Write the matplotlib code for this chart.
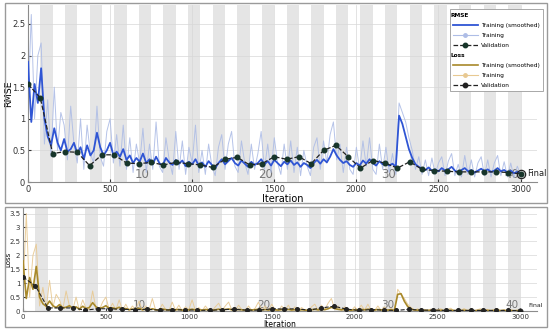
import numpy as np
import matplotlib
matplotlib.use("Agg")
import matplotlib.pyplot as plt
from matplotlib.lines import Line2D
from matplotlib.patches import Rectangle

# Training progress (MATLAB style)
N_EPOCHS = 40
ITERS_PER_EPOCH = 75
iterations = np.arange(0, 3001, 20)
val_iterations = np.arange(0, 3001, 75)

rmse_smooth = [
    1.90, 0.95, 1.55, 1.25, 1.80, 1.00, 0.72, 0.58, 0.85, 0.62,
    0.50, 0.68, 0.48, 0.52, 0.62, 0.45, 0.55, 0.36, 0.58, 0.42,
    0.50, 0.78, 0.55, 0.42, 0.50, 0.62, 0.42, 0.48, 0.40, 0.52,
    0.35, 0.42, 0.30, 0.38, 0.32, 0.45, 0.30, 0.36, 0.28, 0.40,
    0.30, 0.26, 0.38, 0.31, 0.27, 0.35, 0.29, 0.34, 0.25, 0.32,
    0.28, 0.36, 0.26, 0.31, 0.24, 0.33, 0.27, 0.22, 0.30, 0.36,
    0.28, 0.33, 0.38, 0.30, 0.26, 0.34, 0.29, 0.24, 0.32, 0.27,
    0.30, 0.36, 0.28, 0.33, 0.26, 0.35, 0.30, 0.25, 0.32, 0.28,
    0.34, 0.27, 0.31, 0.24, 0.30, 0.27, 0.22, 0.30, 0.35, 0.29,
    0.36, 0.31, 0.40, 0.52, 0.42, 0.35, 0.30, 0.33, 0.27, 0.24,
    0.30, 0.26, 0.34, 0.29, 0.36, 0.30, 0.26, 0.33, 0.28, 0.31,
    0.26, 0.29, 0.24, 1.05, 0.92, 0.72, 0.52, 0.38, 0.28, 0.24,
    0.21, 0.19, 0.23, 0.18, 0.20, 0.17, 0.22, 0.18, 0.20, 0.24,
    0.18, 0.15, 0.19, 0.22, 0.17, 0.19, 0.15, 0.18, 0.21, 0.17,
    0.20, 0.16, 0.18, 0.22, 0.17, 0.19, 0.15, 0.18, 0.14, 0.16,
    0.14,
]
rmse_raw = [
    1.20, 2.65, 1.00, 2.00, 2.20, 0.60, 1.30, 0.40, 1.50, 0.50,
    1.10, 0.90, 0.35, 1.20, 0.60, 0.30, 1.00, 0.20, 0.90, 0.45,
    0.30, 1.20, 0.40, 0.25, 0.80, 1.00, 0.30, 0.75, 0.25, 0.90,
    0.20, 0.70, 0.15, 0.60, 0.30, 0.85, 0.15, 0.60, 0.20, 0.95,
    0.25, 0.15, 0.70, 0.35, 0.12, 0.80, 0.20, 0.65, 0.12, 0.55,
    0.30, 0.90, 0.15, 0.50, 0.12, 0.60, 0.25, 0.10, 0.55, 0.75,
    0.20, 0.60, 0.80, 0.25, 0.15, 0.65, 0.30, 0.12, 0.60, 0.20,
    0.45, 0.80, 0.20, 0.60, 0.15, 0.70, 0.30, 0.12, 0.60, 0.20,
    0.65, 0.15, 0.55, 0.10, 0.50, 0.25, 0.10, 0.55, 0.70, 0.20,
    0.65, 0.30, 0.75, 0.95, 0.35, 0.60, 0.15, 0.55, 0.20, 0.12,
    0.55, 0.20, 0.65, 0.25, 0.70, 0.20, 0.12, 0.60, 0.20, 0.55,
    0.15, 0.45, 0.12, 1.25, 1.10, 0.95, 0.70, 0.50, 0.20, 0.40,
    0.12, 0.35, 0.10, 0.38, 0.12, 0.30, 0.40, 0.10, 0.33, 0.45,
    0.10, 0.28, 0.08, 0.42, 0.12, 0.35, 0.08, 0.30, 0.40, 0.10,
    0.35, 0.08, 0.30, 0.42, 0.10, 0.32, 0.08, 0.30, 0.07, 0.25,
    0.12,
]
rmse_val = [
    1.55, 1.33, 0.45, 0.48, 0.47, 0.26, 0.43, 0.43, 0.30, 0.29,
    0.31, 0.27, 0.31, 0.29, 0.27, 0.23, 0.36, 0.39, 0.27, 0.29,
    0.40, 0.36, 0.40, 0.29, 0.50, 0.58, 0.40, 0.22, 0.34, 0.30,
    0.22, 0.32, 0.20, 0.18, 0.17, 0.16, 0.16, 0.16, 0.16, 0.15,
    0.13,
]

loss_smooth = [
    1.80, 0.45, 1.20, 0.78, 1.60, 0.50, 0.26, 0.17, 0.36, 0.19,
    0.125, 0.23, 0.115, 0.135, 0.19, 0.10, 0.15, 0.065, 0.17, 0.09,
    0.125, 0.30, 0.15, 0.09, 0.125, 0.19, 0.09, 0.115, 0.08, 0.135,
    0.06, 0.09, 0.045, 0.07, 0.05, 0.10, 0.045, 0.065, 0.04, 0.08,
    0.045, 0.034, 0.072, 0.048, 0.036, 0.061, 0.042, 0.058, 0.031, 0.051,
    0.039, 0.065, 0.034, 0.048, 0.029, 0.054, 0.036, 0.024, 0.045, 0.065,
    0.039, 0.054, 0.072, 0.045, 0.034, 0.058, 0.042, 0.029, 0.051, 0.036,
    0.045, 0.065, 0.039, 0.054, 0.034, 0.061, 0.045, 0.031, 0.051, 0.039,
    0.058, 0.036, 0.048, 0.029, 0.045, 0.036, 0.024, 0.045, 0.061, 0.042,
    0.065, 0.048, 0.08, 0.135, 0.088, 0.061, 0.045, 0.054, 0.036, 0.029,
    0.045, 0.034, 0.058, 0.042, 0.065, 0.045, 0.034, 0.054, 0.039, 0.048,
    0.034, 0.042, 0.029, 0.60, 0.62, 0.35, 0.16, 0.072, 0.039, 0.029,
    0.022, 0.018, 0.026, 0.016, 0.02, 0.014, 0.024, 0.016, 0.02, 0.029,
    0.016, 0.011, 0.018, 0.024, 0.014, 0.018, 0.011, 0.016, 0.022, 0.014,
    0.02, 0.013, 0.016, 0.024, 0.014, 0.018, 0.011, 0.016, 0.01, 0.013,
    0.01,
]
loss_raw = [
    0.72, 3.50, 0.50, 2.00, 2.40, 0.18, 0.85, 0.08, 1.10, 0.125,
    0.60, 0.40, 0.06, 0.72, 0.18, 0.045, 0.50, 0.02, 0.40, 0.10,
    0.045, 0.72, 0.08, 0.03, 0.32, 0.50, 0.045, 0.28, 0.03, 0.40,
    0.02, 0.245, 0.011, 0.18, 0.045, 0.36, 0.011, 0.18, 0.02, 0.45,
    0.03, 0.011, 0.245, 0.06, 0.007, 0.32, 0.02, 0.21, 0.007, 0.15,
    0.045, 0.40, 0.011, 0.125, 0.007, 0.18, 0.03, 0.005, 0.15, 0.28,
    0.02, 0.18, 0.32, 0.03, 0.011, 0.21, 0.045, 0.007, 0.18, 0.02,
    0.10, 0.32, 0.02, 0.18, 0.011, 0.245, 0.045, 0.007, 0.18, 0.02,
    0.21, 0.011, 0.15, 0.005, 0.125, 0.03, 0.005, 0.15, 0.245, 0.02,
    0.21, 0.045, 0.28, 0.45, 0.06, 0.18, 0.011, 0.15, 0.02, 0.007,
    0.15, 0.02, 0.21, 0.03, 0.245, 0.02, 0.007, 0.18, 0.02, 0.15,
    0.011, 0.10, 0.007, 0.78, 0.60, 0.45, 0.245, 0.125, 0.02, 0.08,
    0.007, 0.06, 0.005, 0.07, 0.007, 0.045, 0.08, 0.005, 0.055, 0.10,
    0.005, 0.04, 0.003, 0.09, 0.007, 0.06, 0.003, 0.045, 0.08, 0.005,
    0.06, 0.003, 0.045, 0.09, 0.005, 0.05, 0.003, 0.045, 0.002, 0.03,
    0.007,
]
loss_val = [
    1.22, 0.90, 0.11, 0.11, 0.11, 0.03, 0.08, 0.08, 0.06, 0.05,
    0.06, 0.03, 0.04, 0.04, 0.03, 0.02, 0.05, 0.06, 0.03, 0.03,
    0.08, 0.07, 0.08, 0.03, 0.11, 0.17, 0.07, 0.02, 0.05, 0.03,
    0.02, 0.06, 0.03, 0.03, 0.02, 0.02, 0.02, 0.02, 0.02, 0.02,
    0.01,
]

BLUE = '#2f55d4'
BLUE_LIGHT = '#aebde6'
GOLD = '#a8892a'
GOLD_LIGHT = '#e8c992'
VAL = '#17352a'
SPINE = '#8c8c8c'
W, H = 550, 332

fig = plt.figure(figsize=(5.5, 3.32), dpi=100)
fig.patch.set_facecolor('white')

# panel frames
for (x0, y0, x1, y1) in [(5, 3, 547, 203), (5, 207, 547, 327)]:
    fig.patches.append(Rectangle((x0 / W, 1 - y1 / H), (x1 - x0) / W, (y1 - y0) / H,
                                 transform=fig.transFigure, fill=False,
                                 edgecolor='#9a9a9a', lw=1.0))


def make_ax(left, top, right, bottom):
    return fig.add_axes([left / W, 1 - bottom / H, (right - left) / W, (bottom - top) / H])


ax1 = make_ax(28, 5, 537, 182)
ax2 = make_ax(23, 208, 537, 311)


def style(ax, ymax, yticks, fs, epoch_fs, label_y0):
    ax.set_xlim(0, 3100)
    ax.set_ylim(0, ymax)
    for e in range(1, N_EPOCHS, 2):
        ax.axvspan(e * ITERS_PER_EPOCH, (e + 1) * ITERS_PER_EPOCH,
                   color='#e5e5e5', lw=0, zorder=0)
    ax.set_xticks(range(0, 3001, 500))
    ax.set_yticks(yticks)
    ax.set_yticklabels(['%g' % t for t in yticks])
    ax.grid(True, color='#d8d8d8', lw=0.5, zorder=0.5)
    ax.set_axisbelow(True)
    ax.tick_params(labelsize=fs, length=2, direction='in', colors='#333333', pad=2)
    for s in ['top', 'right']:
        ax.spines[s].set_visible(False)
    for s in ['left', 'bottom']:
        ax.spines[s].set_color(SPINE)
        ax.spines[s].set_linewidth(0.8)
    for e in (10, 20, 30, 40):
        ax.text(e * ITERS_PER_EPOCH - 10, label_y0, str(e), ha='right', va='bottom',
                fontsize=epoch_fs, color='#777777', zorder=1)


style(ax1, 2.8, [0, 0.5, 1, 1.5, 2, 2.5], 6.0, 8.5, 0.02)
style(ax2, 3.7, [0, 0.5, 1, 1.5, 2, 2.5, 3, 3.5], 5, 7.5, 0.03)

# RMSE
ax1.plot(iterations, rmse_raw, color=BLUE_LIGHT, lw=0.7, alpha=0.9, zorder=2)
ax1.plot(iterations, rmse_smooth, color=BLUE, lw=1.3, zorder=3)
ax1.plot(val_iterations, rmse_val, '--', color='#222222', lw=0.9, zorder=4,
         marker='o', markersize=3.3, markerfacecolor=VAL, markeredgecolor=VAL)
ax1.plot([3000], [rmse_val[-1]], 'o', markersize=6, markerfacecolor='none',
         markeredgecolor='#222222', markeredgewidth=0.9, zorder=5)
ax1.text(3040, rmse_val[-1], 'Final', fontsize=6, va='center', ha='left', color='#222222')
ax1.set_ylabel('RMSE', fontsize=6.8, va='center')
ax1.yaxis.set_label_coords(-0.039, 0.5)
ax1.set_xlabel('Iteration', fontsize=7, labelpad=0)

# Loss
ax2.plot(iterations, loss_raw, color=GOLD_LIGHT, lw=0.7, alpha=0.9, zorder=2)
ax2.plot(iterations, loss_smooth, color=GOLD, lw=1.2, zorder=3)
ax2.plot(val_iterations, loss_val, '--', color='#222222', lw=0.8, zorder=4,
         marker='o', markersize=2.6, markerfacecolor='#222222', markeredgecolor='#222222')
ax2.plot([3000], [loss_val[-1]], 'o', markersize=3.5, markerfacecolor='none',
         markeredgecolor='#222222', markeredgewidth=0.8, zorder=5)
ax2.text(3050, 0.1, 'Final', fontsize=4.5, va='bottom', ha='left', color='#222222')
ax2.set_ylabel('Loss', fontsize=5, va='center')
ax2.yaxis.set_label_coords(-0.029, 0.5)
ax2.set_xlabel('Iteration', fontsize=5.5, labelpad=0)

# legend
blank = Line2D([], [], color='none')
handles = [
    blank,
    Line2D([], [], color=BLUE, lw=1.3),
    Line2D([], [], color=BLUE_LIGHT, lw=0.8, marker='o', markersize=2.5),
    Line2D([], [], color='#222222', ls='--', lw=0.9, marker='o', markersize=3.2,
           markerfacecolor=VAL, markeredgecolor=VAL),
    blank,
    Line2D([], [], color=GOLD, lw=1.2),
    Line2D([], [], color=GOLD_LIGHT, lw=0.8, marker='o', markersize=2.5),
    Line2D([], [], color='#222222', ls='--', lw=0.9, marker='o', markersize=3.2,
           markerfacecolor='#222222', markeredgecolor='#222222'),
]
labels = ['RMSE', 'Training (smoothed)', 'Training', 'Validation',
          'Loss', 'Training (smoothed)', 'Training', 'Validation']
leg = fig.legend(handles, labels, loc='upper right',
                 bbox_to_anchor=(543 / W, 1 - 9 / H), fontsize=4.2,
                 handlelength=4.2, handletextpad=0.5, labelspacing=0.85,
                 borderpad=0.6, borderaxespad=0, frameon=True, fancybox=False,
                 framealpha=1)
leg.get_frame().set_edgecolor('#9a9a9a')
leg.get_frame().set_linewidth(0.6)
for i in (0, 4):
    leg.get_texts()[i].set_fontweight('bold')
    leg.get_texts()[i].set_position((-30, 0))

fig.savefig('out.png', dpi=100)
